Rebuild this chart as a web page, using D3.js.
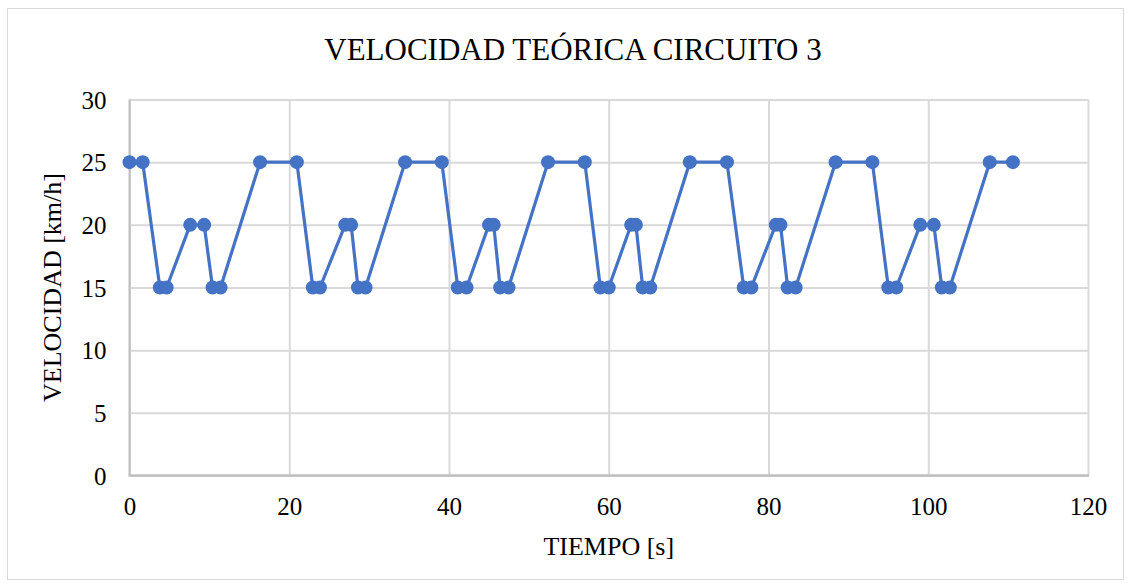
<!DOCTYPE html>
<html>
<head>
<meta charset="utf-8">
<script src="https://cdn.jsdelivr.net/npm/d3@7"></script>
<style>
  body { margin: 0; background: #fff; }
  svg text { font-family: "Liberation Serif", "Times New Roman", serif; fill: #000; }
</style>
</head>
<body>
<div id="chart"></div>
<script>
// data
var tiempo = [0, 1.65, 3.8, 4.65, 7.6, 9.35, 10.4, 11.4, 16.35, 20.95,
  22.95, 23.85, 27.0, 27.75, 28.6, 29.55, 34.5, 39.1, 41.1, 42.2,
  45.0, 45.6, 46.4, 47.45, 52.4, 57.0, 58.95, 60.0, 62.8, 63.4,
  64.25, 65.2, 70.15, 74.8, 76.9, 77.85, 80.9, 81.5, 82.4, 83.4,
  88.4, 93.0, 95.0, 96.0, 99.0, 100.7, 101.7, 102.7, 107.7, 110.6];
var velocidad = [25, 25, 15, 15, 20, 20, 15, 15, 25, 25,
  15, 15, 20, 20, 15, 15, 25, 25, 15, 15,
  20, 20, 15, 15, 25, 25, 15, 15, 20, 20,
  15, 15, 25, 25, 15, 15, 20, 20, 15, 15,
  25, 25, 15, 15, 20, 20, 15, 15, 25, 25];
var xTicks = [0, 20, 40, 60, 80, 100, 120];
var yTicks = [0, 5, 10, 15, 20, 25, 30];

var W = 1131, H = 587;
var m = { left: 129.5, right: W - 1088, top: 99.5, bottom: H - 475.5 };

var svg = d3.select("#chart").append("svg")
  .attr("width", W)
  .attr("height", H);

// outer chart frame
svg.append("rect")
  .attr("x", 7.5).attr("y", 8.5)
  .attr("width", W - 15).attr("height", H - 16)
  .attr("fill", "#fff")
  .attr("stroke", "#d9d9d9")
  .attr("stroke-width", 1);

var x = d3.scaleLinear().domain([0, 120]).range([m.left, W - m.right]);
var y = d3.scaleLinear().domain([0, 30]).range([H - m.bottom, m.top]);

// horizontal gridlines
svg.append("g")
  .attr("transform", "translate(" + m.left + ",0)")
  .call(d3.axisLeft(y).tickValues(yTicks).tickSize(-(W - m.left - m.right)).tickFormat(""))
  .call(function(g) {
    g.select(".domain").remove();
    g.selectAll(".tick line").attr("stroke", "#d9d9d9").attr("stroke-width", 2);
  });

// vertical gridlines
svg.append("g")
  .attr("transform", "translate(0," + m.top + ")")
  .call(d3.axisBottom(x).tickValues(xTicks).tickSize(H - m.top - m.bottom).tickFormat(""))
  .call(function(g) {
    g.select(".domain").remove();
    g.selectAll(".tick line").attr("stroke", "#d9d9d9").attr("stroke-width", 2);
  });

// axis lines
svg.append("line")
  .attr("x1", m.left).attr("x2", m.left)
  .attr("y1", m.top).attr("y2", H - m.bottom)
  .attr("stroke", "#bfbfbf").attr("stroke-width", 2);
svg.append("line")
  .attr("x1", m.left - 1).attr("x2", W - m.right + 1)
  .attr("y1", H - m.bottom).attr("y2", H - m.bottom)
  .attr("stroke", "#bfbfbf").attr("stroke-width", 2.5);

// tick labels
var xAxis = svg.append("g")
  .attr("transform", "translate(0," + (H - m.bottom) + ")")
  .call(d3.axisBottom(x).tickValues(xTicks).tickSize(0));
xAxis.select(".domain").remove();
xAxis.selectAll("text").attr("font-size", 25).attr("y", 39).attr("dy", 0);

var yAxis = svg.append("g")
  .attr("transform", "translate(" + m.left + ",0)")
  .call(d3.axisLeft(y).tickValues(yTicks).tickSize(0).tickPadding(23));
yAxis.select(".domain").remove();
yAxis.selectAll("text").attr("font-size", 25).attr("dy", "0.34em");

// series
var pts = tiempo.map(function(t, i) { return { t: t, v: velocidad[i] }; });

svg.append("path")
  .datum(pts)
  .attr("fill", "none")
  .attr("stroke", "#4472c4")
  .attr("stroke-width", 3.2)
  .attr("stroke-linejoin", "round")
  .attr("d", d3.line().x(function(d) { return x(d.t); }).y(function(d) { return y(d.v); }));

svg.append("g").selectAll("circle")
  .data(pts)
  .enter().append("circle")
  .attr("cx", function(d) { return x(d.t); })
  .attr("cy", function(d) { return y(d.v); })
  .attr("r", 7)
  .attr("fill", "#4472c4");

// titles
svg.append("text")
  .attr("x", 573).attr("y", 60)
  .attr("text-anchor", "middle")
  .attr("font-size", 31)
  .text("VELOCIDAD TEÓRICA CIRCUITO 3");

svg.append("text")
  .attr("x", (m.left + W - m.right) / 2).attr("y", 555)
  .attr("text-anchor", "middle")
  .attr("font-size", 26)
  .text("TIEMPO [s]");

svg.append("text")
  .attr("transform", "translate(61," + ((m.top + H - m.bottom) / 2) + ") rotate(-90)")
  .attr("text-anchor", "middle")
  .attr("font-size", 26)
  .text("VELOCIDAD [km/h]");
</script>
</body>
</html>
